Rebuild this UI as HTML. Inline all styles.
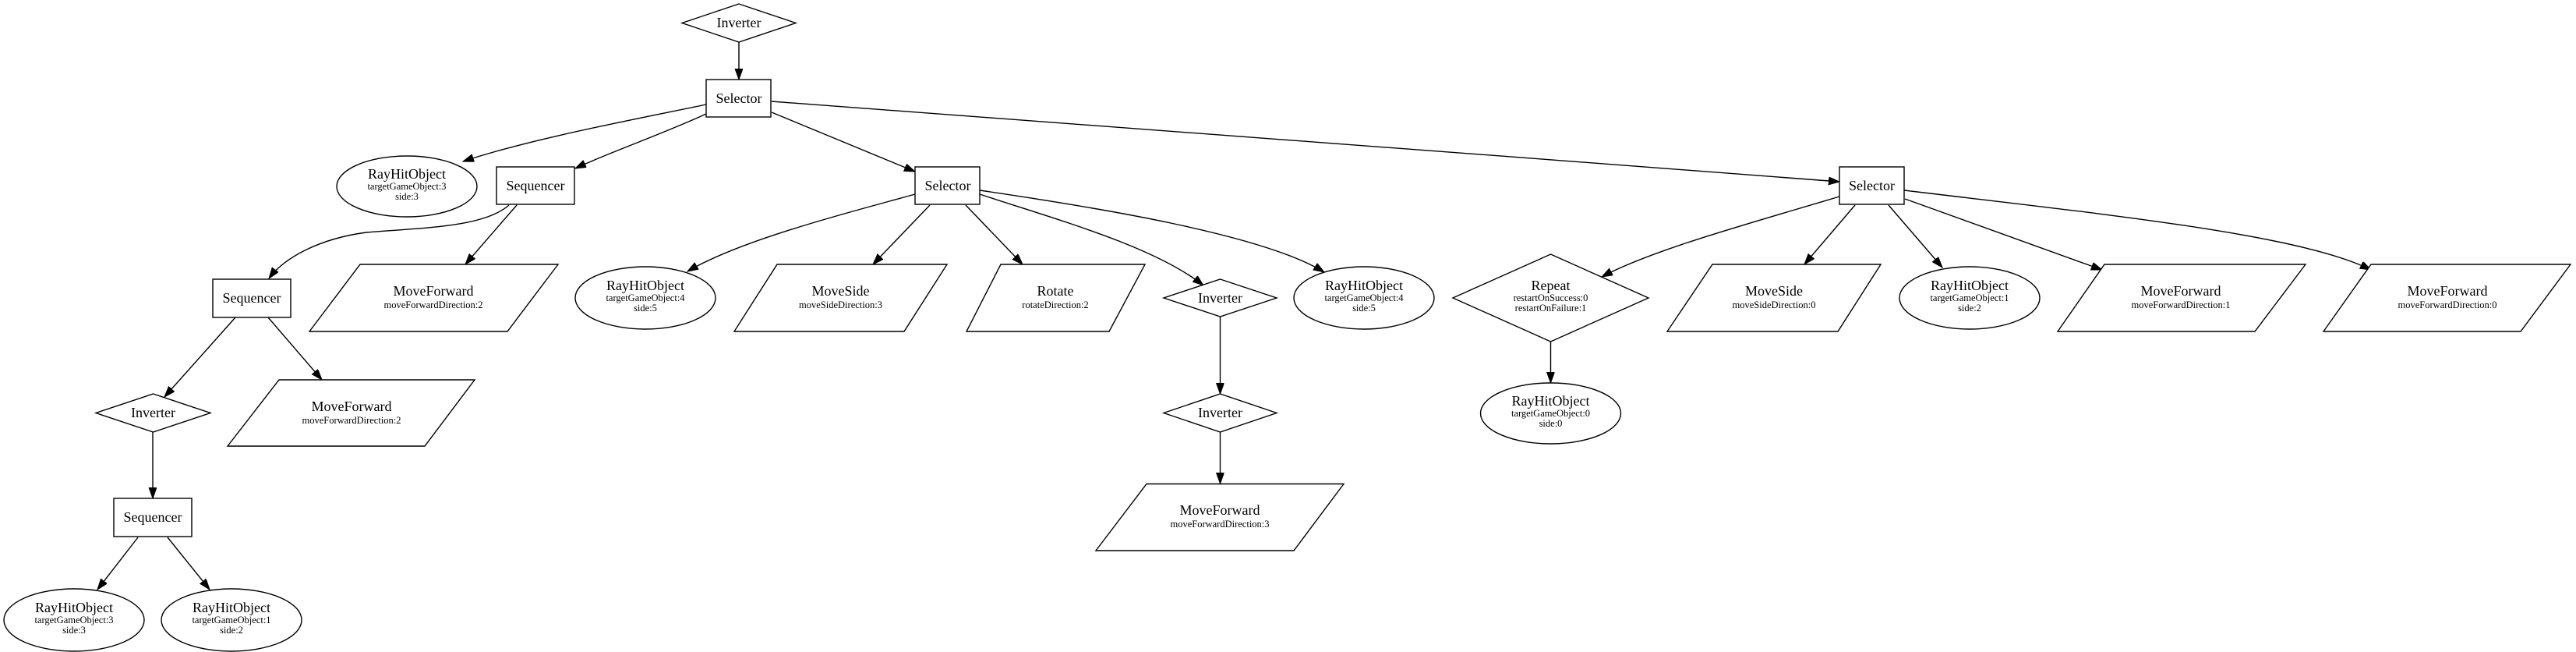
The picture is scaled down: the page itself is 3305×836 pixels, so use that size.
<!DOCTYPE html>
<html><head><meta charset="utf-8"><style>
html,body{margin:0;padding:0;background:#fff;}
svg{display:block;}
text{font-family:"Liberation Serif","Times New Roman",serif;fill:#000;text-anchor:middle;}
.t{font-size:18px;}
.s{font-size:12.5px;}
.n{fill:#fff;stroke:#000;stroke-width:1.4;}
.e{fill:none;stroke:#000;stroke-width:1.4;}
</style></head><body>
<svg width="3305" height="836" viewBox="0 0 3305 836" xmlns="http://www.w3.org/2000/svg">
<defs>
<marker id="a" markerUnits="userSpaceOnUse" markerWidth="16" markerHeight="12" refX="14" refY="5" orient="auto">
<path d="M0,0 L14,5 L0,10 Z" fill="#000" stroke="#000" stroke-width="1"/>
</marker>
</defs>
<rect width="3305" height="836" fill="#fff"/>

<!-- edges -->
<path class="e" marker-end="url(#a)" d="M948,54 L948,102"/>
<path class="e" marker-end="url(#a)" d="M906,134 C820,152 680,178 594,207"/>
<path class="e" marker-end="url(#a)" d="M906,146 C850,172 780,196 738,216"/>
<path class="e" marker-end="url(#a)" d="M990,144 L1174,220"/>
<path class="e" marker-end="url(#a)" d="M990,130 C1400,160 1900,198 2360,233"/>
<path class="e" marker-end="url(#a)" d="M653,263 C620,292 540,292 470,298 C410,306 365,330 345,357"/>
<path class="e" marker-end="url(#a)" d="M663,263 L597,339"/>
<path class="e" marker-end="url(#a)" d="M302,407 L211,509"/>
<path class="e" marker-end="url(#a)" d="M344,407 L413,487"/>
<path class="e" marker-end="url(#a)" d="M196,554 L196,639"/>
<path class="e" marker-end="url(#a)" d="M177,689 L125,756"/>
<path class="e" marker-end="url(#a)" d="M215,689 L269,756"/>
<path class="e" marker-end="url(#a)" d="M1174,249 C1080,275 950,308 882,348"/>
<path class="e" marker-end="url(#a)" d="M1193,263 L1120,339"/>
<path class="e" marker-end="url(#a)" d="M1239,263 L1312,339"/>
<path class="e" marker-end="url(#a)" d="M1257,249 C1350,280 1480,315 1544,366"/>
<path class="e" marker-end="url(#a)" d="M1257,244 C1400,265 1620,300 1699,349"/>
<path class="e" marker-end="url(#a)" d="M1565.5,406 L1565.5,505"/>
<path class="e" marker-end="url(#a)" d="M1565.5,554 L1565.5,620"/>
<path class="e" marker-end="url(#a)" d="M2360,252 C2250,285 2120,320 2055,355"/>
<path class="e" marker-end="url(#a)" d="M2380,263 L2315,339"/>
<path class="e" marker-end="url(#a)" d="M2423,263 L2492,343"/>
<path class="e" marker-end="url(#a)" d="M2444,255 L2697,346"/>
<path class="e" marker-end="url(#a)" d="M2443,244 C2700,275 2950,300 3042,346"/>
<path class="e" marker-end="url(#a)" d="M1989.5,438 L1989.5,491"/>

<!-- nodes -->
<polygon class="n" points="948,5 1021,29.5 948,54 875,29.5"/>
<text class="t" x="948" y="35">Inverter</text>

<rect class="n" x="906" y="102" width="83" height="48"/>
<text class="t" x="948" y="132">Selector</text>

<ellipse class="n" cx="522" cy="239" rx="90" ry="39"/>
<text class="t" x="522" y="229">RayHitObject</text>
<text class="s" x="522" y="243">targetGameObject:3</text>
<text class="s" x="522" y="256">side:3</text>

<rect class="n" x="637" y="214" width="100" height="48"/>
<text class="t" x="687" y="244">Sequencer</text>

<polygon class="n" points="462,339 716,339 651,425 397,425"/>
<text class="t" x="556" y="379">MoveForward</text>
<text class="s" x="556" y="395">moveForwardDirection:2</text>

<rect class="n" x="273" y="358" width="100" height="49"/>
<text class="t" x="323" y="388">Sequencer</text>

<polygon class="n" points="196.5,505 270,529.5 196.5,554 123,529.5"/>
<text class="t" x="196.5" y="535">Inverter</text>

<polygon class="n" points="358,487 609,487 545,572 292,572"/>
<text class="t" x="451" y="527">MoveForward</text>
<text class="s" x="451" y="543">moveForwardDirection:2</text>

<rect class="n" x="146" y="639" width="100" height="49"/>
<text class="t" x="196" y="669">Sequencer</text>

<ellipse class="n" cx="95" cy="795" rx="90" ry="40"/>
<text class="t" x="95" y="785">RayHitObject</text>
<text class="s" x="95" y="799">targetGameObject:3</text>
<text class="s" x="95" y="812">side:3</text>

<ellipse class="n" cx="297" cy="795" rx="90" ry="40"/>
<text class="t" x="297" y="785">RayHitObject</text>
<text class="s" x="297" y="799">targetGameObject:1</text>
<text class="s" x="297" y="812">side:2</text>

<rect class="n" x="1174" y="214" width="83" height="48"/>
<text class="t" x="1216" y="244">Selector</text>

<ellipse class="n" cx="828" cy="382" rx="90" ry="40"/>
<text class="t" x="828" y="372">RayHitObject</text>
<text class="s" x="828" y="386">targetGameObject:4</text>
<text class="s" x="828" y="399">side:5</text>

<polygon class="n" points="997,339 1215,339 1160,425 942,425"/>
<text class="t" x="1078.5" y="379">MoveSide</text>
<text class="s" x="1078.5" y="395">moveSideDirection:3</text>

<polygon class="n" points="1284,339 1469,339 1423,425 1240,425"/>
<text class="t" x="1354" y="379">Rotate</text>
<text class="s" x="1354" y="395">rotateDirection:2</text>

<polygon class="n" points="1565.5,358 1638,382 1565.5,406 1493,382"/>
<text class="t" x="1565.5" y="388">Inverter</text>

<ellipse class="n" cx="1750" cy="382" rx="90" ry="40"/>
<text class="t" x="1750" y="372">RayHitObject</text>
<text class="s" x="1750" y="386">targetGameObject:4</text>
<text class="s" x="1750" y="399">side:5</text>

<polygon class="n" points="1565.5,505 1638,529.5 1565.5,554 1493,529.5"/>
<text class="t" x="1565.5" y="535">Inverter</text>

<polygon class="n" points="1471,620.5 1724,620.5 1660,706 1406,706"/>
<text class="t" x="1565" y="660">MoveForward</text>
<text class="s" x="1565" y="676">moveForwardDirection:3</text>

<rect class="n" x="2360" y="214" width="83" height="48"/>
<text class="t" x="2401.5" y="244">Selector</text>

<polygon class="n" points="1989.5,326 2115,382 1989.5,438 1864,382"/>
<text class="t" x="1989.5" y="372">Repeat</text>
<text class="s" x="1989.5" y="386">restartOnSuccess:0</text>
<text class="s" x="1989.5" y="399">restartOnFailure:1</text>

<ellipse class="n" cx="1989.5" cy="530" rx="90" ry="39"/>
<text class="t" x="1989.5" y="520">RayHitObject</text>
<text class="s" x="1989.5" y="534">targetGameObject:0</text>
<text class="s" x="1989.5" y="547">side:0</text>

<polygon class="n" points="2197,339 2413,339 2358,425 2139,425"/>
<text class="t" x="2276" y="379">MoveSide</text>
<text class="s" x="2276" y="395">moveSideDirection:0</text>

<ellipse class="n" cx="2527" cy="382" rx="90" ry="40"/>
<text class="t" x="2527" y="372">RayHitObject</text>
<text class="s" x="2527" y="386">targetGameObject:1</text>
<text class="s" x="2527" y="399">side:2</text>

<polygon class="n" points="2700,339 2958,339 2893,425 2640,425"/>
<text class="t" x="2798" y="379">MoveForward</text>
<text class="s" x="2798" y="395">moveForwardDirection:1</text>

<polygon class="n" points="3042,339 3298,339 3234,425 2981,425"/>
<text class="t" x="3140" y="379">MoveForward</text>
<text class="s" x="3140" y="395">moveForwardDirection:0</text>
</svg>
</body></html>
